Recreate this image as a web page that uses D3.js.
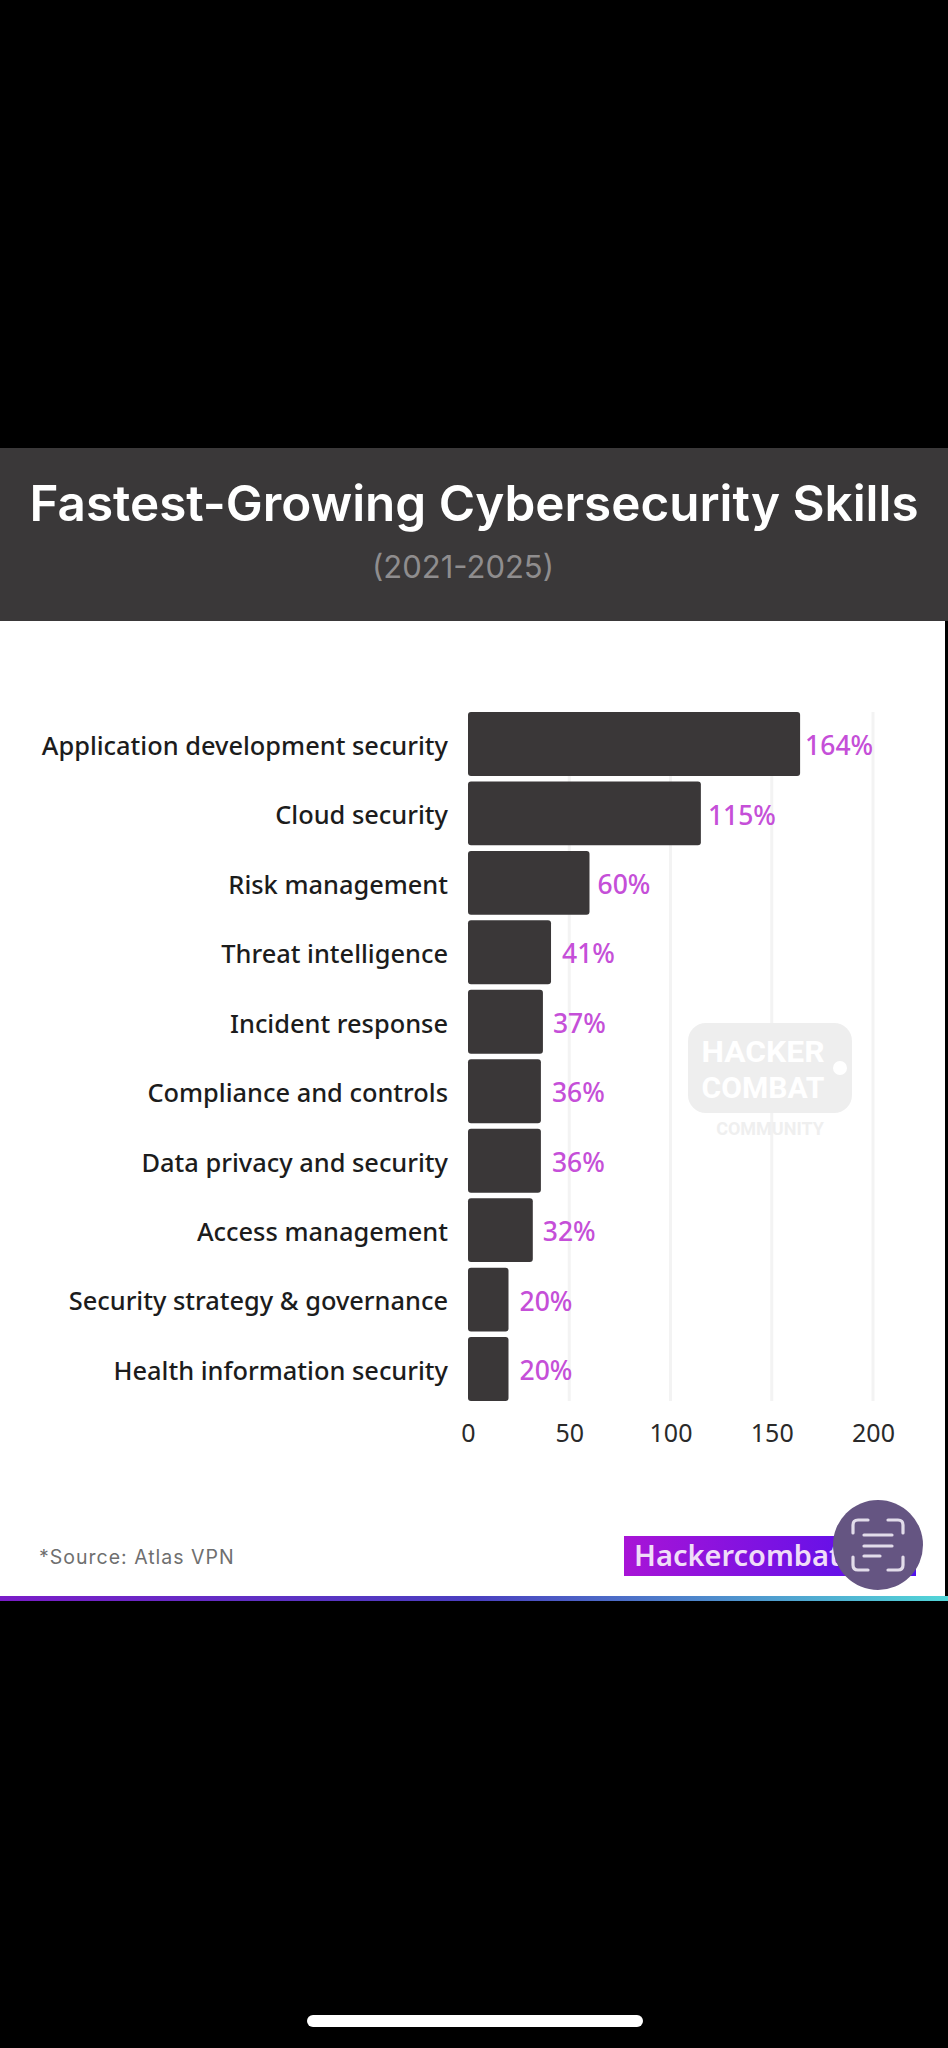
<!DOCTYPE html>
<html>
<head>
<meta charset="utf-8">
<script src="https://d3js.org/d3.v7.min.js"></script>
<style>
  html, body { margin: 0; padding: 0; background: #000; }
  svg { display: block; }
  text { font-family: "Noto Sans", sans-serif; }
</style>
</head>
<body>
<div id="chart"></div>
<script>
// Fastest-growing cybersecurity skills, projected growth 2021-2025
const skills = [
  "Application development security", "Cloud security", "Risk management",
  "Threat intelligence", "Incident response", "Compliance and controls",
  "Data privacy and security", "Access management",
  "Security strategy & governance", "Health information security"
];
const growth = [164, 115, 60, 41, 37, 36, 36, 32, 20, 20];
const axisTicks = [0, 50, 100, 150, 200];

const titleText = "Fastest-Growing Cybersecurity Skills";
const subtitleText = "(2021-2025)";
const sourceText = "*Source: Atlas VPN";
const brandText = "Hackercombat";

const W = 948, H = 2048;
const panel = { top: 448, headerBottom: 621, bottom: 1601, right: 945 };
const plot = { left: 468, right: 873, top: 712, bottom: 1401 };

const svg = d3.select("#chart").append("svg").attr("width", W).attr("height", H);

const defs = svg.append("defs");
const gradient = (id, stops) => {
  const g = defs.append("linearGradient").attr("id", id);
  stops.forEach(([o, c]) => g.append("stop").attr("offset", o).attr("stop-color", c));
};
gradient("brandFill", [["0%", "#a814d6"], ["100%", "#4f10ee"]]);
gradient("footerRule", [["0%", "#7a1cc8"], ["50%", "#4a3fc0"], ["100%", "#52d6d8"]]);

// Page and panel
svg.append("rect").attr("width", W).attr("height", H).attr("fill", "#000");
svg.append("rect").attr("y", panel.top).attr("width", panel.right)
  .attr("height", panel.bottom - panel.top).attr("fill", "#fff");
svg.append("rect").attr("y", panel.top).attr("width", W)
  .attr("height", panel.headerBottom - panel.top).attr("fill", "#3a3839");
svg.append("rect").attr("y", panel.bottom - 5).attr("width", W).attr("height", 5)
  .attr("fill", "url(#footerRule)");

// Header
svg.append("text").attr("x", 474).attr("y", 521).attr("text-anchor", "middle")
  .style("font-family", "Inter, sans-serif").attr("font-size", 49.4).attr("font-weight", 600)
  .attr("fill", "#fff").text(titleText);
svg.append("text").attr("x", 463).attr("y", 578).attr("text-anchor", "middle")
  .style("font-family", "Inter, sans-serif").attr("font-size", 31)
  .attr("fill", "#8f8d8e").text(subtitleText);

// Scales
const x = d3.scaleLinear().domain([0, 200]).range([plot.left, plot.right]);
const y = d3.scaleBand().domain(skills).range([plot.top, plot.bottom]).paddingInner(0.08).paddingOuter(0);

// Gridlines
svg.append("g").selectAll("line").data(axisTicks.slice(1)).join("line")
  .attr("x1", d => x(d)).attr("x2", d => x(d))
  .attr("y1", plot.top).attr("y2", plot.bottom)
  .attr("stroke", "#f3f3f3").attr("stroke-width", 3);

// Community badge behind the bars
const badge = svg.append("g");
badge.append("rect").attr("x", 688).attr("y", 1023).attr("width", 164).attr("height", 90)
  .attr("rx", 18).attr("fill", "#eeeeee");
[["HACKER", 1062], ["COMBAT", 1098]].forEach(([word, baseline]) => {
  badge.append("text").attr("x", 763).attr("y", baseline).attr("text-anchor", "middle")
    .style("font-family", "Roboto, sans-serif").attr("font-size", 30).attr("font-weight", 700)
    .attr("textLength", 123).attr("lengthAdjust", "spacingAndGlyphs")
    .attr("fill", "#fff").text(word);
});
badge.append("circle").attr("cx", 840).attr("cy", 1068).attr("r", 7).attr("fill", "#fff");
badge.append("text").attr("x", 770).attr("y", 1135).attr("text-anchor", "middle")
  .style("font-family", "Roboto, sans-serif").attr("font-size", 18).attr("font-weight", 700)
  .attr("fill", "#efefef").text("COMMUNITY");

// Bars
const rows = skills.map((name, i) => ({ name, value: growth[i] }));
svg.append("g").selectAll("rect").data(rows).join("rect")
  .attr("x", x(0)).attr("y", d => y(d.name))
  .attr("width", d => x(d.value) - x(0)).attr("height", y.bandwidth())
  .attr("rx", 3).attr("fill", "#3a3738");

// Category labels
svg.append("g").selectAll("text").data(rows).join("text")
  .attr("x", 448).attr("y", d => y(d.name) + y.bandwidth() / 2 + 4)
  .attr("dominant-baseline", "middle").attr("text-anchor", "end")
  .attr("font-size", 25.4).attr("font-weight", 500).attr("fill", "#1c1c1c")
  .text(d => d.name);

// Value labels; the gap after each bar is uneven in this layout
const valueGaps = [5, 7, 8, 11, 10, 11, 11, 10, 11, 11];
svg.append("g").selectAll("text").data(rows).join("text")
  .attr("x", (d, i) => x(d.value) + valueGaps[i])
  .attr("y", d => y(d.name) + y.bandwidth() / 2 + 4)
  .attr("dominant-baseline", "middle")
  .attr("font-size", 26.5).attr("font-weight", 500).attr("fill", "#c54fd8")
  .text(d => d.value + "%");

// Value axis
const axis = svg.append("g").attr("transform", `translate(0,${plot.bottom + 23})`)
  .call(d3.axisBottom(x).tickValues(axisTicks).tickSize(0).tickPadding(0));
axis.select(".domain").remove();
axis.selectAll("text").style("font-family", '"Noto Sans", sans-serif')
  .attr("font-size", 25).attr("fill", "#2a2a2a").attr("dy", "0.71em");

// Footer
svg.append("text").attr("x", 39).attr("y", 1564)
  .style("font-family", "Inter, sans-serif").attr("font-size", 19.5).attr("letter-spacing", 1)
  .attr("fill", "#6f6f6f").text(sourceText);
svg.append("rect").attr("x", 624).attr("y", 1536).attr("width", 292).attr("height", 40)
  .attr("fill", "url(#brandFill)");
svg.append("text").attr("x", 634).attr("y", 1566).attr("font-size", 29).attr("font-weight", 600)
  .attr("fill", "#f0dcf8").text(brandText);

// Floating scan button
const scan = svg.append("g").attr("transform", "translate(878,1545)");
scan.append("circle").attr("r", 45).attr("fill", "#655582");
scan.append("path")
  .attr("d", "M-25,-12V-20Q-25,-25 -20,-25H-10M10,-25H20Q25,-25 25,-20V-12M-25,12V20Q-25,25 -20,25H-10M10,25H20Q25,25 25,20V12M-14,-10H14M-14,1H14M-14,11H2")
  .attr("fill", "none").attr("stroke", "#e2dcea").attr("stroke-width", 3.2).attr("stroke-linecap", "round");

// Device home indicator
svg.append("rect").attr("x", 307).attr("y", 2015).attr("width", 336).attr("height", 12)
  .attr("rx", 6).attr("fill", "#fff");
</script>
</body>
</html>
